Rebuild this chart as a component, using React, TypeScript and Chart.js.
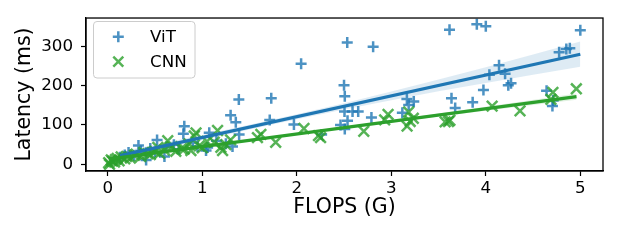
import React, { useEffect, useRef } from "react";
import { Chart, registerables } from "chart.js";

Chart.register(...registerables);

// ---- data ----
const vitFlops = [3.905, 4.0, 3.616, 5.0, 4.776, 4.852, 4.889, 4.14, 4.038, 4.204, 4.238, 4.267, 4.643, 4.705, 4.713, 3.975, 3.861, 3.637, 3.676, 3.165, 3.238, 3.184, 3.117, 2.534, 2.808, 2.046, 2.5, 2.508, 2.505, 2.59, 2.65, 2.79, 2.463, 2.537, 2.508, 2.263, 1.387, 1.73, 1.3, 1.355, 1.714, 1.97, 1.39, 1.074, 1.32, 1.04, 0.81, 0.8, 0.522, 0.325, 0.6, 0.406, 1.057, 0.13, 0.18, 0.22, 0.28, 0.35, 0.45, 0.5, 0.62, 0.7, 0.75, 0.9, 0.95, 1.15, 1.25];
const vitLatency = [356, 351, 342, 341, 285, 293, 295, 252, 228, 230, 201, 206, 187, 148, 162, 189, 158, 168, 143, 166, 160, 151, 131, 310, 299, 256, 201, 173, 134, 134, 134, 119, 100, 111, 90, 76, 165, 168, 125, 107, 113, 101, 76, 80, 45, 35, 97, 78, 62, 48, 20, 11, 43, 18, 24, 30, 22, 34, 40, 32, 44, 50, 38, 55, 45, 60, 52];

const cnnFlops = [4.958, 4.71, 4.689, 4.362, 4.067, 3.605, 3.57, 3.62, 3.184, 3.2, 3.167, 3.233, 2.966, 2.93, 2.709, 2.252, 2.23, 2.076, 1.584, 1.62, 1.777, 1.162, 1.197, 1.215, 1.127, 0.934, 0.968, 0.916, 0.635, 0.53, 0.81, 0.424, 0.283, 0.142, 0.037, 0.019, 0.072, 0.01, 0.05, 0.08, 0.1, 0.12, 0.18, 0.2, 0.24, 0.3, 0.35, 0.38, 0.45, 0.5, 0.55, 0.6, 0.68, 0.72, 0.78, 0.86, 0.88, 1.0, 1.05, 1.25, 1.3];
const cnnLatency = [192, 183, 165, 136, 148, 109, 108, 112, 133, 109, 97, 117, 127, 113, 84, 68, 73, 91, 68, 76, 56, 86, 43, 35, 56, 80, 47, 72, 60, 43, 39, 27, 23, 19, 11, 0, 6, 4, 8, 12, 15, 9, 14, 20, 16, 26, 20, 30, 25, 33, 28, 36, 45, 33, 40, 52, 35, 42, 58, 50, 62];

const vitFitX = [0.13, 5.0];
const vitFitY = [22, 280];
const vitBandX = [0.13, 0.5, 1, 1.5, 2, 2.5, 3, 3.5, 4, 4.5, 5];
const vitBandLow = [11.9, 33.5, 61.5, 88.5, 114.5, 139.5, 163, 185.5, 207, 227.5, 248];
const vitBandHigh = [31.9, 49.5, 74.5, 100.5, 127.5, 155.5, 185, 215.5, 247, 279.5, 312];

const cnnFitX = [0.01, 4.96];
const cnnFitY = [13.1, 172];
const cnnBandX = [0.01, 1, 2, 3, 4, 4.96];
const cnnBandLow = [10.1, 42.9, 75, 106.1, 136.2, 164];
const cnnBandHigh = [16.1, 46.9, 79, 112.1, 146.2, 180];

const xTicks = [0, 1, 2, 3, 4, 5];
const yTicks = [0, 100, 200, 300];
const seriesNames = ["ViT", "CNN"];
const xLabel = "FLOPS (G)";
const yLabel = "Latency (ms)";

const BLUE = "#1f77b4";
const GREEN = "#2ca02c";
const FONT = "'DejaVu Sans', sans-serif";

const pts = (xs: number[], ys: number[]) => xs.map((x, i) => ({ x, y: ys[i] }));

const framePlugin = {
  id: "frameAndLegend",
  afterDraw(chart: any) {
    const { ctx, chartArea } = chart;
    ctx.save();
    ctx.strokeStyle = "#000";
    ctx.lineWidth = 1.3;
    ctx.strokeRect(chartArea.left, chartArea.top, chartArea.right - chartArea.left, chartArea.bottom - chartArea.top);

    // legend
    const bx = 93.5, by = 21.5, bw = 101.5, bh = 56.5, r = 3.5;
    ctx.beginPath();
    ctx.moveTo(bx + r, by);
    ctx.lineTo(bx + bw - r, by);
    ctx.quadraticCurveTo(bx + bw, by, bx + bw, by + r);
    ctx.lineTo(bx + bw, by + bh - r);
    ctx.quadraticCurveTo(bx + bw, by + bh, bx + bw - r, by + bh);
    ctx.lineTo(bx + r, by + bh);
    ctx.quadraticCurveTo(bx, by + bh, bx, by + bh - r);
    ctx.lineTo(bx, by + r);
    ctx.quadraticCurveTo(bx, by, bx + r, by);
    ctx.closePath();
    ctx.fillStyle = "rgba(255,255,255,0.8)";
    ctx.fill();
    ctx.strokeStyle = "rgba(204,204,204,1)";
    ctx.lineWidth = 1;
    ctx.stroke();

    const mx = 118.3;
    // plus
    ctx.strokeStyle = "rgba(31,119,180,0.8)";
    ctx.lineWidth = 2.5;
    ctx.beginPath();
    ctx.moveTo(mx - 5.5, 36.7); ctx.lineTo(mx + 5.5, 36.7);
    ctx.moveTo(mx, 31.2); ctx.lineTo(mx, 42.2);
    ctx.stroke();
    // x
    ctx.strokeStyle = "rgba(44,160,44,0.8)";
    ctx.beginPath();
    ctx.moveTo(mx - 5, 56.7); ctx.lineTo(mx + 5, 66.7);
    ctx.moveTo(mx - 5, 66.7); ctx.lineTo(mx + 5, 56.7);
    ctx.stroke();

    ctx.fillStyle = "#000";
    ctx.font = `16.7px ${FONT}`;
    ctx.textBaseline = "alphabetic";
    ctx.textAlign = "left";
    ctx.fillText(seriesNames[0], 150, 42);
    ctx.fillText(seriesNames[1], 150, 67);
    ctx.restore();
  },
};

export default function App() {
  const ref = useRef<HTMLCanvasElement>(null);
  useEffect(() => {
    if (!ref.current) return;
    const chart = new Chart(ref.current, {
      type: "scatter",
      data: {
        datasets: [
          {
            type: "scatter",
            label: seriesNames[0],
            data: pts(vitFlops, vitLatency),
            pointStyle: "cross",
            pointRadius: 5.5,
            borderWidth: 2.5,
            borderColor: "rgba(31,119,180,0.8)",
            backgroundColor: "rgba(31,119,180,0.8)",
            order: 6,
          } as any,
          {
            type: "line",
            label: "vitHigh",
            data: pts(vitBandX, vitBandHigh),
            borderWidth: 0,
            pointRadius: 0,
            fill: "+1",
            backgroundColor: "rgba(31,119,180,0.15)",
            order: 5,
          },
          {
            type: "line",
            label: "vitLow",
            data: pts(vitBandX, vitBandLow),
            borderWidth: 0,
            pointRadius: 0,
            fill: false,
            order: 5,
          },
          {
            type: "scatter",
            label: seriesNames[1],
            data: pts(cnnFlops, cnnLatency),
            pointStyle: "crossRot",
            pointRadius: 7.5,
            borderWidth: 2.5,
            borderColor: "rgba(44,160,44,0.8)",
            backgroundColor: "rgba(44,160,44,0.8)",
            order: 4,
          } as any,
          {
            type: "line",
            label: "cnnHigh",
            data: pts(cnnBandX, cnnBandHigh),
            borderWidth: 0,
            pointRadius: 0,
            fill: "+1",
            backgroundColor: "rgba(44,160,44,0.15)",
            order: 3,
          },
          {
            type: "line",
            label: "cnnLow",
            data: pts(cnnBandX, cnnBandLow),
            borderWidth: 0,
            pointRadius: 0,
            fill: false,
            order: 3,
          },
          {
            type: "line",
            label: "vitFit",
            data: pts(vitFitX, vitFitY),
            borderColor: BLUE,
            borderWidth: 3.2,
            pointRadius: 0,
            fill: false,
            order: 2,
          },
          {
            type: "line",
            label: "cnnFit",
            data: pts(cnnFitX, cnnFitY),
            borderColor: GREEN,
            borderWidth: 3.2,
            pointRadius: 0,
            fill: false,
            order: 1,
          },
        ],
      },
      options: {
        animation: false,
        responsive: true,
        maintainAspectRatio: false,
        devicePixelRatio: 1,
        events: [],
        layout: { padding: { top: 13, right: 14, left: 0, bottom: 0 } },
        plugins: {
          legend: { display: false },
          tooltip: { enabled: false },
        },
        scales: {
          x: {
            type: "linear",
            min: -0.23,
            max: 5.24,
            afterBuildTicks: (s: any) => { s.ticks = xTicks.map((v) => ({ value: v })); },
            afterFit: (s: any) => { s.height = 69; },
            ticks: {
              color: "#000",
              font: { family: FONT, size: 16.7 },
              padding: 3,
              maxRotation: 0,
              callback: (v: any) => String(v),
            },
            grid: { drawOnChartArea: false, drawTicks: true, tickLength: 5, tickColor: "#000", tickWidth: 1.2 },
            border: { display: true, color: "#000", width: 1.3 },
            title: {
              display: true,
              text: xLabel,
              color: "#000",
              font: { family: FONT, size: 20.5 },
              padding: { top: 0, bottom: 20 },
            },
          },
          y: {
            type: "linear",
            min: -17,
            max: 372,
            afterBuildTicks: (s: any) => { s.ticks = yTicks.map((v) => ({ value: v })); },
            afterFit: (s: any) => { s.width = 86; },
            ticks: {
              color: "#000",
              font: { family: FONT, size: 16.7 },
              padding: 8,
              callback: (v: any) => String(v),
            },
            grid: { drawOnChartArea: false, drawTicks: true, tickLength: 5, tickColor: "#000", tickWidth: 1.2 },
            border: { display: true, color: "#000", width: 1.3 },
            title: {
              display: true,
              text: yLabel,
              color: "#000",
              font: { family: FONT, size: 20.5 },
              padding: { top: 12, bottom: 0 },
            },
          },
        },
      },
      plugins: [framePlugin],
    } as any);
    return () => chart.destroy();
  }, []);
  return (
    <div style={{ position: "fixed", left: 0, top: 0, width: 617, height: 240 }}>
      <canvas ref={ref} width={617} height={240} />
    </div>
  );
}
